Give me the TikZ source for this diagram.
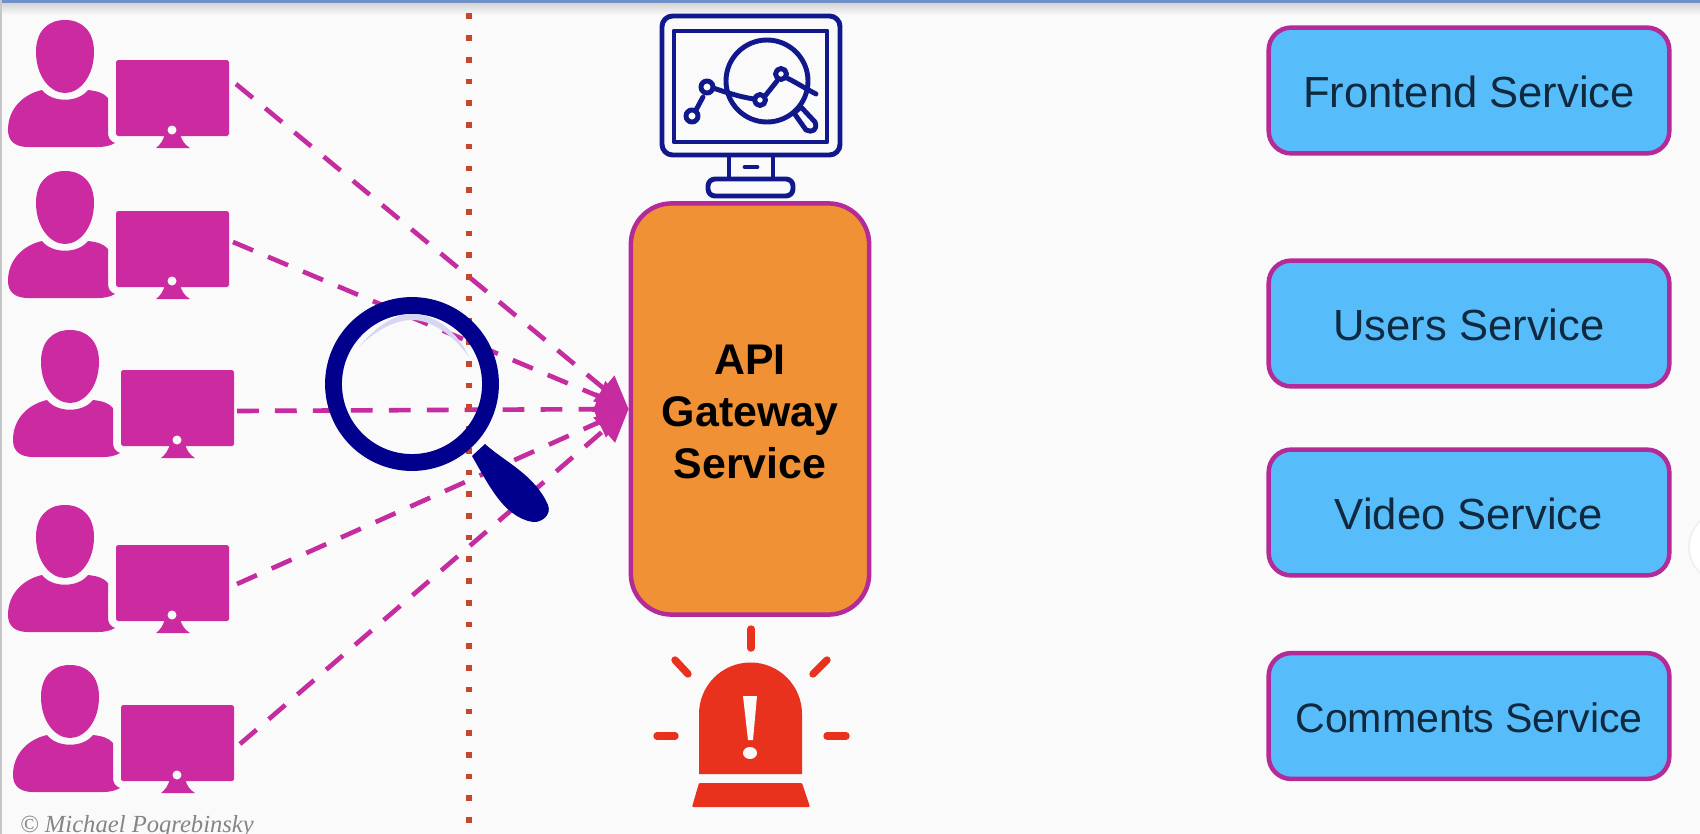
\documentclass[tikz,border=0pt]{standalone}
\usepackage{fontspec}
\setmainfont{Liberation Sans}
\newfontfamily\credit{Liberation Serif}
\usetikzlibrary{arrows.meta}
\definecolor{pagebg}{HTML}{FAFAFA}
\definecolor{usermag}{HTML}{CC2AA0}
\definecolor{edgemag}{HTML}{B42A98}
\definecolor{linkmag}{HTML}{C42CA0}
\definecolor{apiorange}{HTML}{F09135}
\definecolor{svcblue}{HTML}{56BDFA}
\definecolor{svcink}{HTML}{10293F}
\definecolor{navy}{HTML}{00008C}
\definecolor{iconnavy}{HTML}{10188C}
\definecolor{alarmred}{HTML}{E8321E}
\definecolor{dotred}{HTML}{C8452E}
\definecolor{topbar}{HTML}{7090C8}
\definecolor{glint}{HTML}{D6D6F2}
\tikzset{
  x=0.05cm,y=-0.05cm,
  usercomp/.pic={
    \fill[usermag] (36,52) .. controls (36,32) and (47,20) .. (65,20)
      .. controls (83,20) and (94,32) .. (94,52)
      .. controls (94,76) and (80,93) .. (65,93)
      .. controls (50,93) and (36,76) .. (36,52) -- cycle;
    \fill[usermag] (42,90) .. controls (52,103) and (78,103) .. (88,90)
      .. controls (97,91) and (104,93) .. (108,98)
      -- (108,132) .. controls (108,138) and (110,141) .. (115,143)
      .. controls (110,146) and (104,147) .. (98,147)
      -- (28,147) .. controls (15,147) and (8,141) .. (8,130)
      .. controls (8,108) and (24,94) .. (42,90) -- cycle;
    \fill[usermag,rounded corners=2.5pt] (116,60) rectangle (229,136);
    \fill[usermag] (165,134) -- (180,134) .. controls (182,141) and (185,145) .. (190,148)
      -- (156,148) .. controls (160,145) and (163,141) .. (165,134) -- cycle;
    \fill[pagebg] (172,130) circle [radius=4.5];
  },
  linkdash/.style={linkmag,line width=6.6pt,dash pattern=on 31pt off 23pt,
    -{Triangle[length=46pt,width=46pt,fill=usermag]}},
  svcbox/.style={draw=edgemag,line width=6.4pt,fill=svcblue,rounded corners=32pt,
    minimum width=570pt,minimum height=179pt,text=svcink,inner sep=0pt,
    text height=48pt,text depth=0pt,
    font=\fontsize{62}{70}\selectfont},
  iconline/.style={draw=iconnavy,line width=7pt,line cap=round,line join=round},
  rayline/.style={draw=alarmred,line width=10.5pt,line cap=round},
}
\begin{document}
\begin{tikzpicture}
\useasboundingbox (0,0) rectangle (1700,834);
\clip (0,0) rectangle (1700,834);
\fill[pagebg] (0,0) rectangle (1700,834);
\shade[top color=black!17,bottom color=pagebg] (0,3) rectangle (1700,15);
\fill[topbar] (0,0) rectangle (1700,3);
\fill[black!22] (0,0) rectangle (1.5,834);
\fill[black!6] (1724,547) circle [radius=36];
\fill[white] (1724,547) circle [radius=34];

% users
\pic at (0,0) {usercomp};
\pic at (0,151) {usercomp};
\pic at (5,310) {usercomp};
\pic at (0,485) {usercomp};
\pic at (5,645) {usercomp};

% API box
\node[draw=edgemag,line width=6.4pt,fill=apiorange,rounded corners=58pt,
  minimum width=339pt,minimum height=585pt,inner sep=0pt,align=center,
  font=\fontsize{61}{73.7}\selectfont\bfseries] (api) at (750,409)
  {\rule{0pt}{50pt}API\\Gateway\\Service};

% services
\node[svcbox] (frontend) at (1469,90.5) {Frontend Service};
\node[svcbox] (users) at (1469,323.5) {Users Service};
\node[svcbox] (video) at (1469,512.5) {Video Service};
\node[svcbox,font=\fontsize{58.5}{70}\selectfont] (comments) at (1469,716) {Comments Service};

% connectors
\coordinate (u1) at (236,84);
\coordinate (u2) at (233,242);
\coordinate (u3) at (237,411);
\coordinate (u4) at (237,584);
\coordinate (u5) at (240,744);
\foreach \u in {u1,u2,u3,u4,u5}
  \draw[linkdash] (\u) -- (api.west);

% dotted divider
\coordinate (divtop) at (469,13.5);
\coordinate (divbot) at (469,834);
\draw[dotred,line width=8pt,dash pattern=on 8pt off 22.9pt] (divtop) -- (divbot);

% magnifier
\draw[navy,line width=24pt] (412,384) circle [radius=78.5];
\fill[navy] (472,456) -- (485,444)
  .. controls (505,462) and (535,475) .. (548,505)
  .. controls (552,515) and (541,523) .. (533,522)
  .. controls (518,520) and (505,508) .. (497,497)
  .. controls (488,485) and (480,470) .. (472,456) -- cycle;
\fill[glint] (359,347) .. controls (376,326) and (395,314) .. (412,314)
  .. controls (435,314) and (458,332) .. (469,357)
  .. controls (455,337) and (433,320) .. (412,320)
  .. controls (393,320) and (374,332) .. (359,347) -- cycle;

% analytics monitor icon
\draw[iconline,rounded corners=15pt] (662,16) rectangle (840,155);
\draw[iconline] (674,31) rectangle (827,142);
\draw[iconline] (767,81) circle [radius=41];
\draw[iconline] (696,110) -- (703,97);
\draw[iconline] (713,88) .. controls (725,92) and (740,97) .. (754,99);
\draw[iconline] (765,96) -- (777,81);
\draw[iconline] (787,78) .. controls (797,83) and (808,90) .. (816,94);
\draw[iconline] (692,116) circle [radius=6];
\draw[iconline] (707,87) circle [radius=6];
\draw[iconline] (760,100) circle [radius=5.5];
\draw[iconline] (781,74) circle [radius=5.5];
\draw[iconline] (794,113) -- (801,107) -- (815,122)
  .. controls (818,130) and (812,133) .. (806,130) -- cycle;
\draw[iconline] (729,157) -- (729,178);
\draw[iconline] (773,157) -- (773,178);
\draw[iconline] (745,167) -- (757,167);
\draw[iconline,rounded corners=10pt] (708,179) rectangle (793,196);

% alarm icon
\fill[alarmred] (699,774) -- (699,714) arc [start angle=180,end angle=360,radius=51.5] -- (802,774) -- cycle;
\fill[alarmred,rounded corners=1.5pt] (699,783) -- (802,783) -- (810,807) -- (692,807) -- cycle;
\fill[pagebg] (743,696) -- (757,696) -- (753,740) -- (748,740) -- cycle;
\fill[pagebg] (750,753) ellipse [x radius=7,y radius=6];
\draw[rayline] (751,629) -- (751,648);
\draw[rayline] (675,660) -- (688,674);
\draw[rayline] (827,660) -- (813,674);
\draw[rayline] (657,736) -- (675,736);
\draw[rayline] (827,736) -- (846,736);

% credit
\node[anchor=base west,inner sep=0pt,text=black!48,font=\credit\itshape\fontsize{35}{40}\selectfont] (credit) at (20,832) {© Michael Pogrebinsky};
\end{tikzpicture}
\end{document}
